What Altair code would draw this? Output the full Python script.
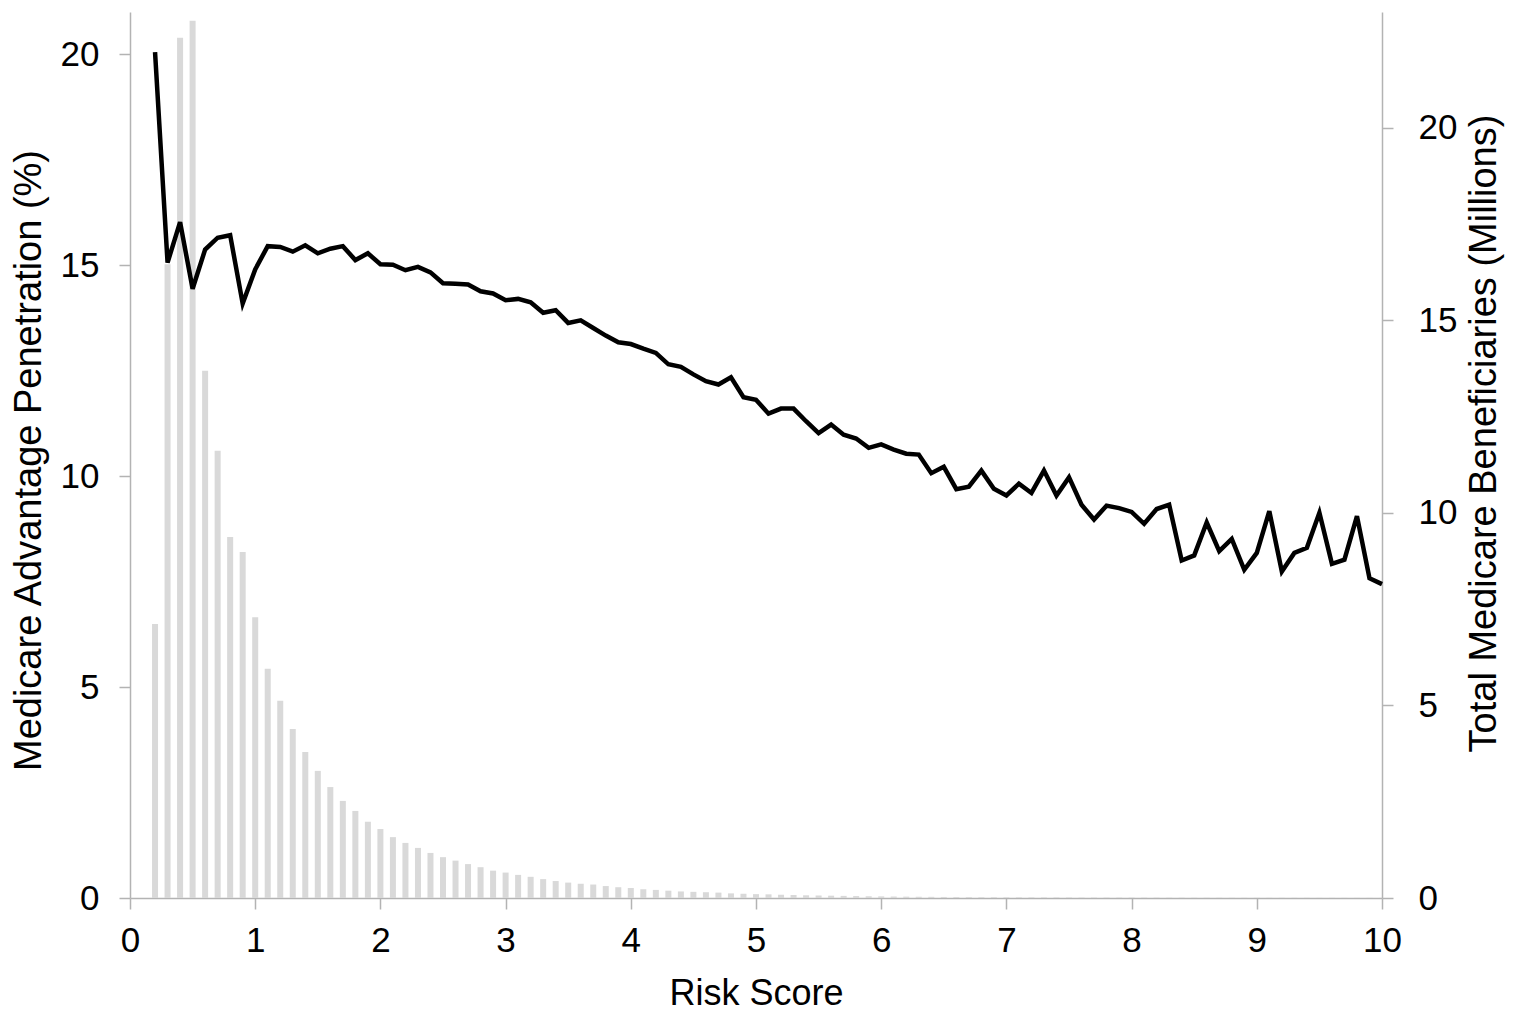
import altair as alt
import pandas as pd

risk_score = [0.2, 0.3, 0.4, 0.5, 0.6, 0.7, 0.8, 0.9, 1.0,
              1.1, 1.2, 1.3, 1.4, 1.5, 1.6, 1.7, 1.8, 1.9, 2.0,
              2.1, 2.2, 2.3, 2.4, 2.5, 2.6, 2.7, 2.8, 2.9, 3.0,
              3.1, 3.2, 3.3, 3.4, 3.5, 3.6, 3.7, 3.8, 3.9, 4.0,
              4.1, 4.2, 4.3, 4.4, 4.5, 4.6, 4.7, 4.8, 4.9, 5.0,
              5.1, 5.2, 5.3, 5.4, 5.5, 5.6, 5.7, 5.8, 5.9, 6.0,
              6.1, 6.2, 6.3, 6.4, 6.5, 6.6, 6.7, 6.8, 6.9, 7.0,
              7.1, 7.2, 7.3, 7.4, 7.5, 7.6, 7.7, 7.8, 7.9, 8.0,
              8.1, 8.2, 8.3, 8.4, 8.5, 8.6, 8.7, 8.8, 8.9, 9.0,
              9.1, 9.2, 9.3, 9.4, 9.5, 9.6, 9.7, 9.8, 9.9, 10.0]

# Medicare Advantage penetration (%)
penetration = [20.05, 15.06, 16.02, 14.44, 15.37, 15.65, 15.71, 14.09, 14.90,
               15.45, 15.43, 15.32, 15.47, 15.28, 15.39, 15.45, 15.12, 15.28, 15.02,
               15.01, 14.88, 14.96, 14.83, 14.57, 14.56, 14.54, 14.38, 14.33, 14.17,
               14.20, 14.12, 13.87, 13.93, 13.63, 13.69, 13.51, 13.33, 13.17, 13.13,
               13.02, 12.92, 12.65, 12.59, 12.41, 12.25, 12.17, 12.34, 11.87, 11.81,
               11.48, 11.60, 11.60, 11.30, 11.02, 11.22, 10.98, 10.89, 10.67, 10.75,
               10.63, 10.53, 10.51, 10.07, 10.22, 9.69, 9.75, 10.13, 9.70, 9.54,
               9.82, 9.60, 10.13, 9.54, 9.97, 9.32, 8.97, 9.30, 9.24, 9.15,
               8.87, 9.22, 9.32, 8.00, 8.12, 8.90, 8.22, 8.51, 7.78, 8.18,
               9.17, 7.74, 8.18, 8.30, 9.13, 7.92, 8.02, 9.05, 7.58, 7.44]

# Total Medicare beneficiaries (millions)
beneficiaries = [7.11, 16.45, 22.33, 22.77, 13.69, 11.61, 9.37, 8.98, 7.29,
                 5.95, 5.12, 4.39, 3.79, 3.30, 2.88, 2.52, 2.26, 1.98, 1.79,
                 1.58, 1.43, 1.30, 1.17, 1.06, 0.97, 0.88, 0.80, 0.71, 0.66,
                 0.60, 0.55, 0.49, 0.44, 0.40, 0.37, 0.35, 0.31, 0.28, 0.26,
                 0.23, 0.21, 0.19, 0.17, 0.16, 0.15, 0.14, 0.12, 0.11, 0.10,
                 0.095, 0.085, 0.078, 0.07, 0.065, 0.06, 0.055, 0.05, 0.045, 0.042,
                 0.038, 0.035, 0.032, 0.03, 0.027, 0.025, 0.023, 0.021, 0.02, 0.018,
                 0.017, 0.016, 0.015, 0.014, 0.013, 0.012, 0.012, 0.011, 0.010, 0.010,
                 0.009, 0.009, 0.008, 0.008, 0.007, 0.007, 0.007, 0.006, 0.006, 0.006,
                 0.005, 0.005, 0.005, 0.005, 0.004, 0.004, 0.004, 0.004, 0.004, 0.003]

x_ticks = [0, 1, 2, 3, 4, 5, 6, 7, 8, 9, 10]
y_ticks = [0, 5, 10, 15, 20]

df = pd.DataFrame({"risk": risk_score, "pen": penetration, "ben": beneficiaries})

FONT = "Liberation Sans"
AX = "#b3b3b3"

x_axis = alt.Axis(values=x_ticks, title="Risk Score", grid=False, labelFlush=False,
                  labelFontSize=35, labelPadding=14, tickSize=11,
                  titleFontSize=36, titleFontWeight="normal", titleBaseline="alphabetic",
                  titleY=106, labelOverlap=False)

bars = alt.Chart(df).transform_calculate(
    x1="datum.risk - 0.024", x2="datum.risk + 0.024"
).mark_bar(color="#d9d9d9", clip=True).encode(
    x=alt.X("x1:Q", scale=alt.Scale(domain=[0, 10], nice=False), axis=x_axis),
    x2="x2:Q",
    y=alt.Y("ben:Q", scale=alt.Scale(domain=[0, 23], nice=False),
            axis=alt.Axis(orient="right", values=y_ticks, grid=False,
                          title="Total Medicare Beneficiaries (Millions)",
                          labelFontSize=35, labelPadding=25, tickSize=11,
                          titleFontSize=38, titleFontWeight="normal",
                          titleAngle=270, titleBaseline="alphabetic", titleAlign="center",
                          titleX=113, titleY=421)),
    y2=alt.datum(0),
)

line = alt.Chart(df).mark_line(color="black", strokeWidth=4.5).encode(
    x=alt.X("risk:Q", scale=alt.Scale(domain=[0, 10], nice=False), axis=x_axis),
    y=alt.Y("pen:Q", scale=alt.Scale(domain=[0, 21], nice=False),
            axis=alt.Axis(orient="left", values=y_ticks, grid=False,
                          title="Medicare Advantage Penetration (%)",
                          labelFontSize=35, labelPadding=20, tickSize=11,
                          titleFontSize=38, titleFontWeight="normal",
                          titleAngle=270, titleBaseline="alphabetic", titleAlign="center",
                          titleX=-90, titleY=448)),
)

chart = alt.layer(bars, line).resolve_scale(y="independent").properties(
    width=1252, height=886,
    autosize=alt.AutoSizeParams(type="none"),
    padding={"left": 122, "top": 4, "right": 123, "bottom": 116},
).configure_view(stroke=None).configure_axis(
    domainColor=AX, tickColor=AX, domainWidth=1.5, tickWidth=1.5,
    labelColor="black", titleColor="black", labelFont=FONT, titleFont=FONT,
)

chart.save("out.html", embed_options={"renderer": "svg", "actions": False})
